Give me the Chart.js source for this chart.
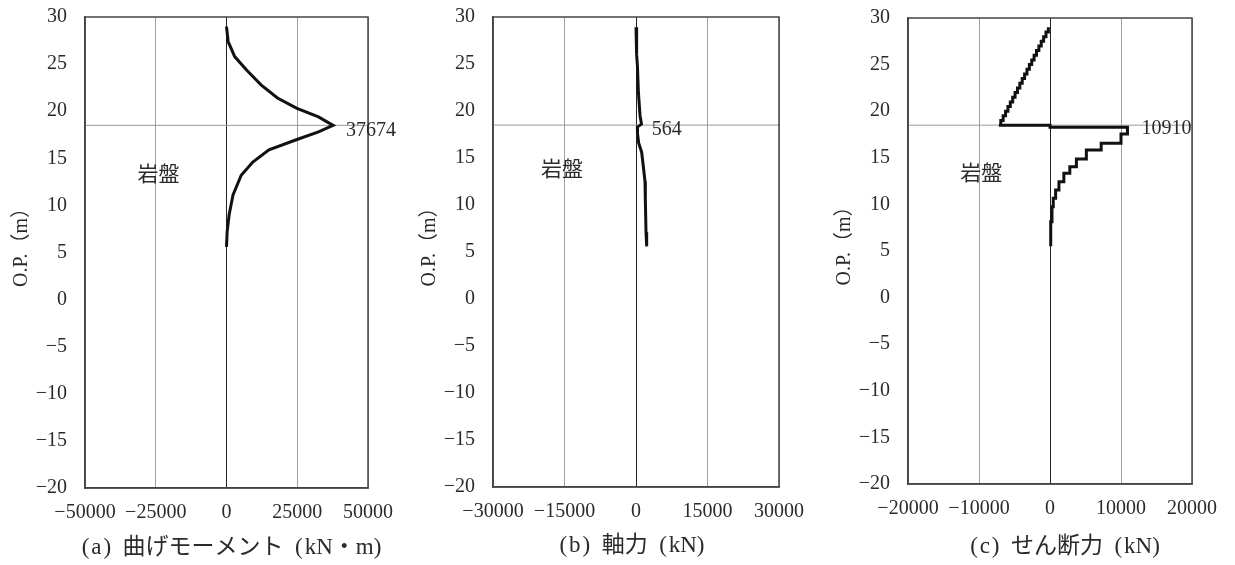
<!DOCTYPE html>
<html>
<head>
<meta charset="utf-8">
<script src="https://cdn.jsdelivr.net/npm/chart.js@4.4.1/dist/chart.umd.min.js"></script>
<style>
  body { margin: 0; background: #fff; width: 1235px; height: 565px; position: relative; overflow: hidden; }
  canvas { position: absolute; top: 0; }
</style>
</head>
<body>
<canvas id="chartA" width="412" height="565" style="left:0px"></canvas>
<canvas id="chartB" width="412" height="565" style="left:408px"></canvas>
<canvas id="chartC" width="412" height="565" style="left:823px"></canvas>
<script>
// O.P. (m) of rock surface
const rockLevel = 18.5;
const rockText = '岩盤';

// (a) bending moment
const depthA = [28.97, 27.4, 25.8, 24.4, 22.8, 21.4, 20.3, 19.4, 18.5, 17.8, 17.0, 15.9, 14.6, 13.2, 11.1, 9.0, 7.2, 5.6];
const momentA = [0, 580, 2900, 7000, 12200, 18000, 24900, 32500, 37674, 32500, 24900, 15000, 9300, 5200, 2300, 930, 230, 0];

// (b) axial force
const depthB = [28.9, 27.5, 26.0, 24.8, 22.0, 19.5, 18.6, 18.3, 17.6, 16.6, 15.6, 14.1, 12.5, 10.6, 7.1, 5.6];
const axialB = [0, 60, 200, 300, 500, 850, 1150, 280, 320, 560, 1190, 1540, 1890, 1960, 2100, 2240];

// (c) shear force (one point per step)
const depthC = [29.0, 28.5, 28.0, 27.5, 27.0, 26.5, 26.0, 25.5, 25.0, 24.5, 24.0, 23.5, 23.0, 22.5, 22.0,
  21.5, 21.0, 20.5, 20.0, 19.5, 19.0, 18.5, 18.5, 18.27, 17.55, 16.56, 15.84, 14.87, 14.05, 13.33,
  12.44, 11.55, 10.65, 9.75, 8.15, 5.5];
const shearC = [-230, -565, -900, -1235, -1570, -1900, -2240, -2575, -2910, -3245, -3580, -3915, -4250, -4585, -4920,
  -5255, -5590, -5925, -6260, -6595, -6930, -7200, 0, 10910, 10000, 7210, 5120, 3720, 2790, 1950,
  1260, 790, 460, 280, 100, 100];

const yTicks = { min: -20, max: 30, step: 5 };

const fontFamily = "'Liberation Serif', 'Noto Sans CJK JP', serif";
const textColor = '#2a2a2a';

const panels = [
  {
    id: 'chartA', depth: depthA, values: momentA, stepped: false,
    xMin: -50000, xMax: 50000, xStep: 25000,
    title: '(\u200aa\u200a)\u2002曲げモーメント\u2002(\u200akN・m)', titleShift: 5, titleY: 548,
    plotTop: 17, plotBottom: 488, padRight: 44,
    peak: { label: '37674', x: 37674, y: 18.5, dx: 13, dy: 5 },
    note: { x: -24000, y: 13.2 }
  },
  {
    id: 'chartB', depth: depthB, values: axialB, stepped: false,
    xMin: -30000, xMax: 30000, xStep: 15000,
    title: '(\u200ab\u200a)\u2002軸力\u2002(\u200akN)', titleShift: -4, titleY: 546,
    plotTop: 17, plotBottom: 487, padRight: 41,
    peak: { label: '564', x: 564, y: 18.5, dx: 13, dy: 5 },
    note: { x: -15500, y: 13.7 }
  },
  {
    id: 'chartC', depth: depthC, values: shearC, stepped: 'after',
    xMin: -20000, xMax: 20000, xStep: 10000,
    title: '(\u200ac\u200a)\u2002せん断力\u2002(\u200akN)', titleShift: 15, titleY: 547,
    plotTop: 18, plotBottom: 484, padRight: 43,
    peak: { label: '10910', x: 10910, y: 18.5, dx: 14, dy: 4 },
    note: { x: -9700, y: 13.2 }
  }
];

function fmt(v) {
  return String(v).replace('-', '\u2212');
}

function makeNotesPlugin(p) {
  return {
    id: 'notes',
    afterDatasetsDraw(chart) {
      const { ctx, chartArea, scales } = chart;
      ctx.save();
      // frame
      ctx.strokeStyle = '#444';
      ctx.lineWidth = 1.5;
      ctx.strokeRect(chartArea.left, chartArea.top, chartArea.right - chartArea.left, chartArea.bottom - chartArea.top);

      ctx.fillStyle = textColor;
      ctx.font = '21px ' + fontFamily;
      ctx.textBaseline = 'middle';
      ctx.textAlign = 'center';
      ctx.fillText(rockText, scales.x.getPixelForValue(p.note.x), scales.y.getPixelForValue(p.note.y));

      // panel caption under the x axis
      ctx.font = '23px ' + fontFamily;
      ctx.fillText(p.title, (chartArea.left + chartArea.right) / 2 + p.titleShift, p.titleY);

      ctx.font = '20px ' + fontFamily;
      ctx.textAlign = 'left';
      ctx.fillText(p.peak.label,
        scales.x.getPixelForValue(p.peak.x) + p.peak.dx,
        scales.y.getPixelForValue(p.peak.y) + p.peak.dy);
      ctx.restore();
    }
  };
}

panels.forEach(p => {
  const ctx = document.getElementById(p.id).getContext('2d');
  const points = p.depth.map((d, i) => ({ x: p.values[i], y: d }));

  new Chart(ctx, {
    type: 'scatter',
    data: {
      datasets: [
        {
          data: points,
          showLine: true,
          stepped: p.stepped,
          borderColor: '#111',
          borderWidth: 3,
          pointRadius: 0,
          tension: 0,
          order: 0
        },
        {
          data: [{ x: p.xMin, y: rockLevel }, { x: p.xMax, y: rockLevel }],
          showLine: true,
          borderColor: '#999',
          borderWidth: 1,
          pointRadius: 0,
          order: 1
        }
      ]
    },
    options: {
      responsive: false,
      animation: false,
      layout: {
        padding: { left: 0, right: p.padRight, top: p.plotTop, bottom: 0 }
      },
      scales: {
        x: {
          type: 'linear',
          min: p.xMin,
          max: p.xMax,
          afterFit: s => {
            s.height = 565 - p.plotBottom;
            s.paddingLeft = 0;
            s.paddingRight = 0;
          },
          ticks: {
            stepSize: p.xStep,
            color: textColor,
            padding: 13,
            maxRotation: 0,
            font: { family: fontFamily, size: 20 },
            callback: v => fmt(v)
          },
          grid: {
            drawTicks: false,
            color: c => (c.tick && c.tick.value === 0 ? '#222' : '#a0a0a0'),
            lineWidth: 1
          },
          border: { display: true, color: '#444', width: 1.5 }
        },
        y: {
          type: 'linear',
          min: yTicks.min,
          max: yTicks.max,
          afterFit: s => {
            s.width = 85;
            s.paddingTop = 0;
            s.paddingBottom = 0;
          },
          ticks: {
            stepSize: yTicks.step,
            color: textColor,
            padding: 18,
            font: { family: fontFamily, size: 20 },
            callback: v => fmt(v)
          },
          grid: { display: false, drawTicks: false },
          border: { display: true, color: '#444', width: 1.5 },
          title: {
            display: true,
            text: '\u3000O.P.（m）',
            color: textColor,
            font: { family: fontFamily, size: 20 },
            padding: { top: 10, bottom: 0 }
          }
        }
      },
      plugins: {
        legend: { display: false },
        tooltip: { enabled: false }
      }
    },
    plugins: [makeNotesPlugin(p)]
  });
});
</script>
</body>
</html>
